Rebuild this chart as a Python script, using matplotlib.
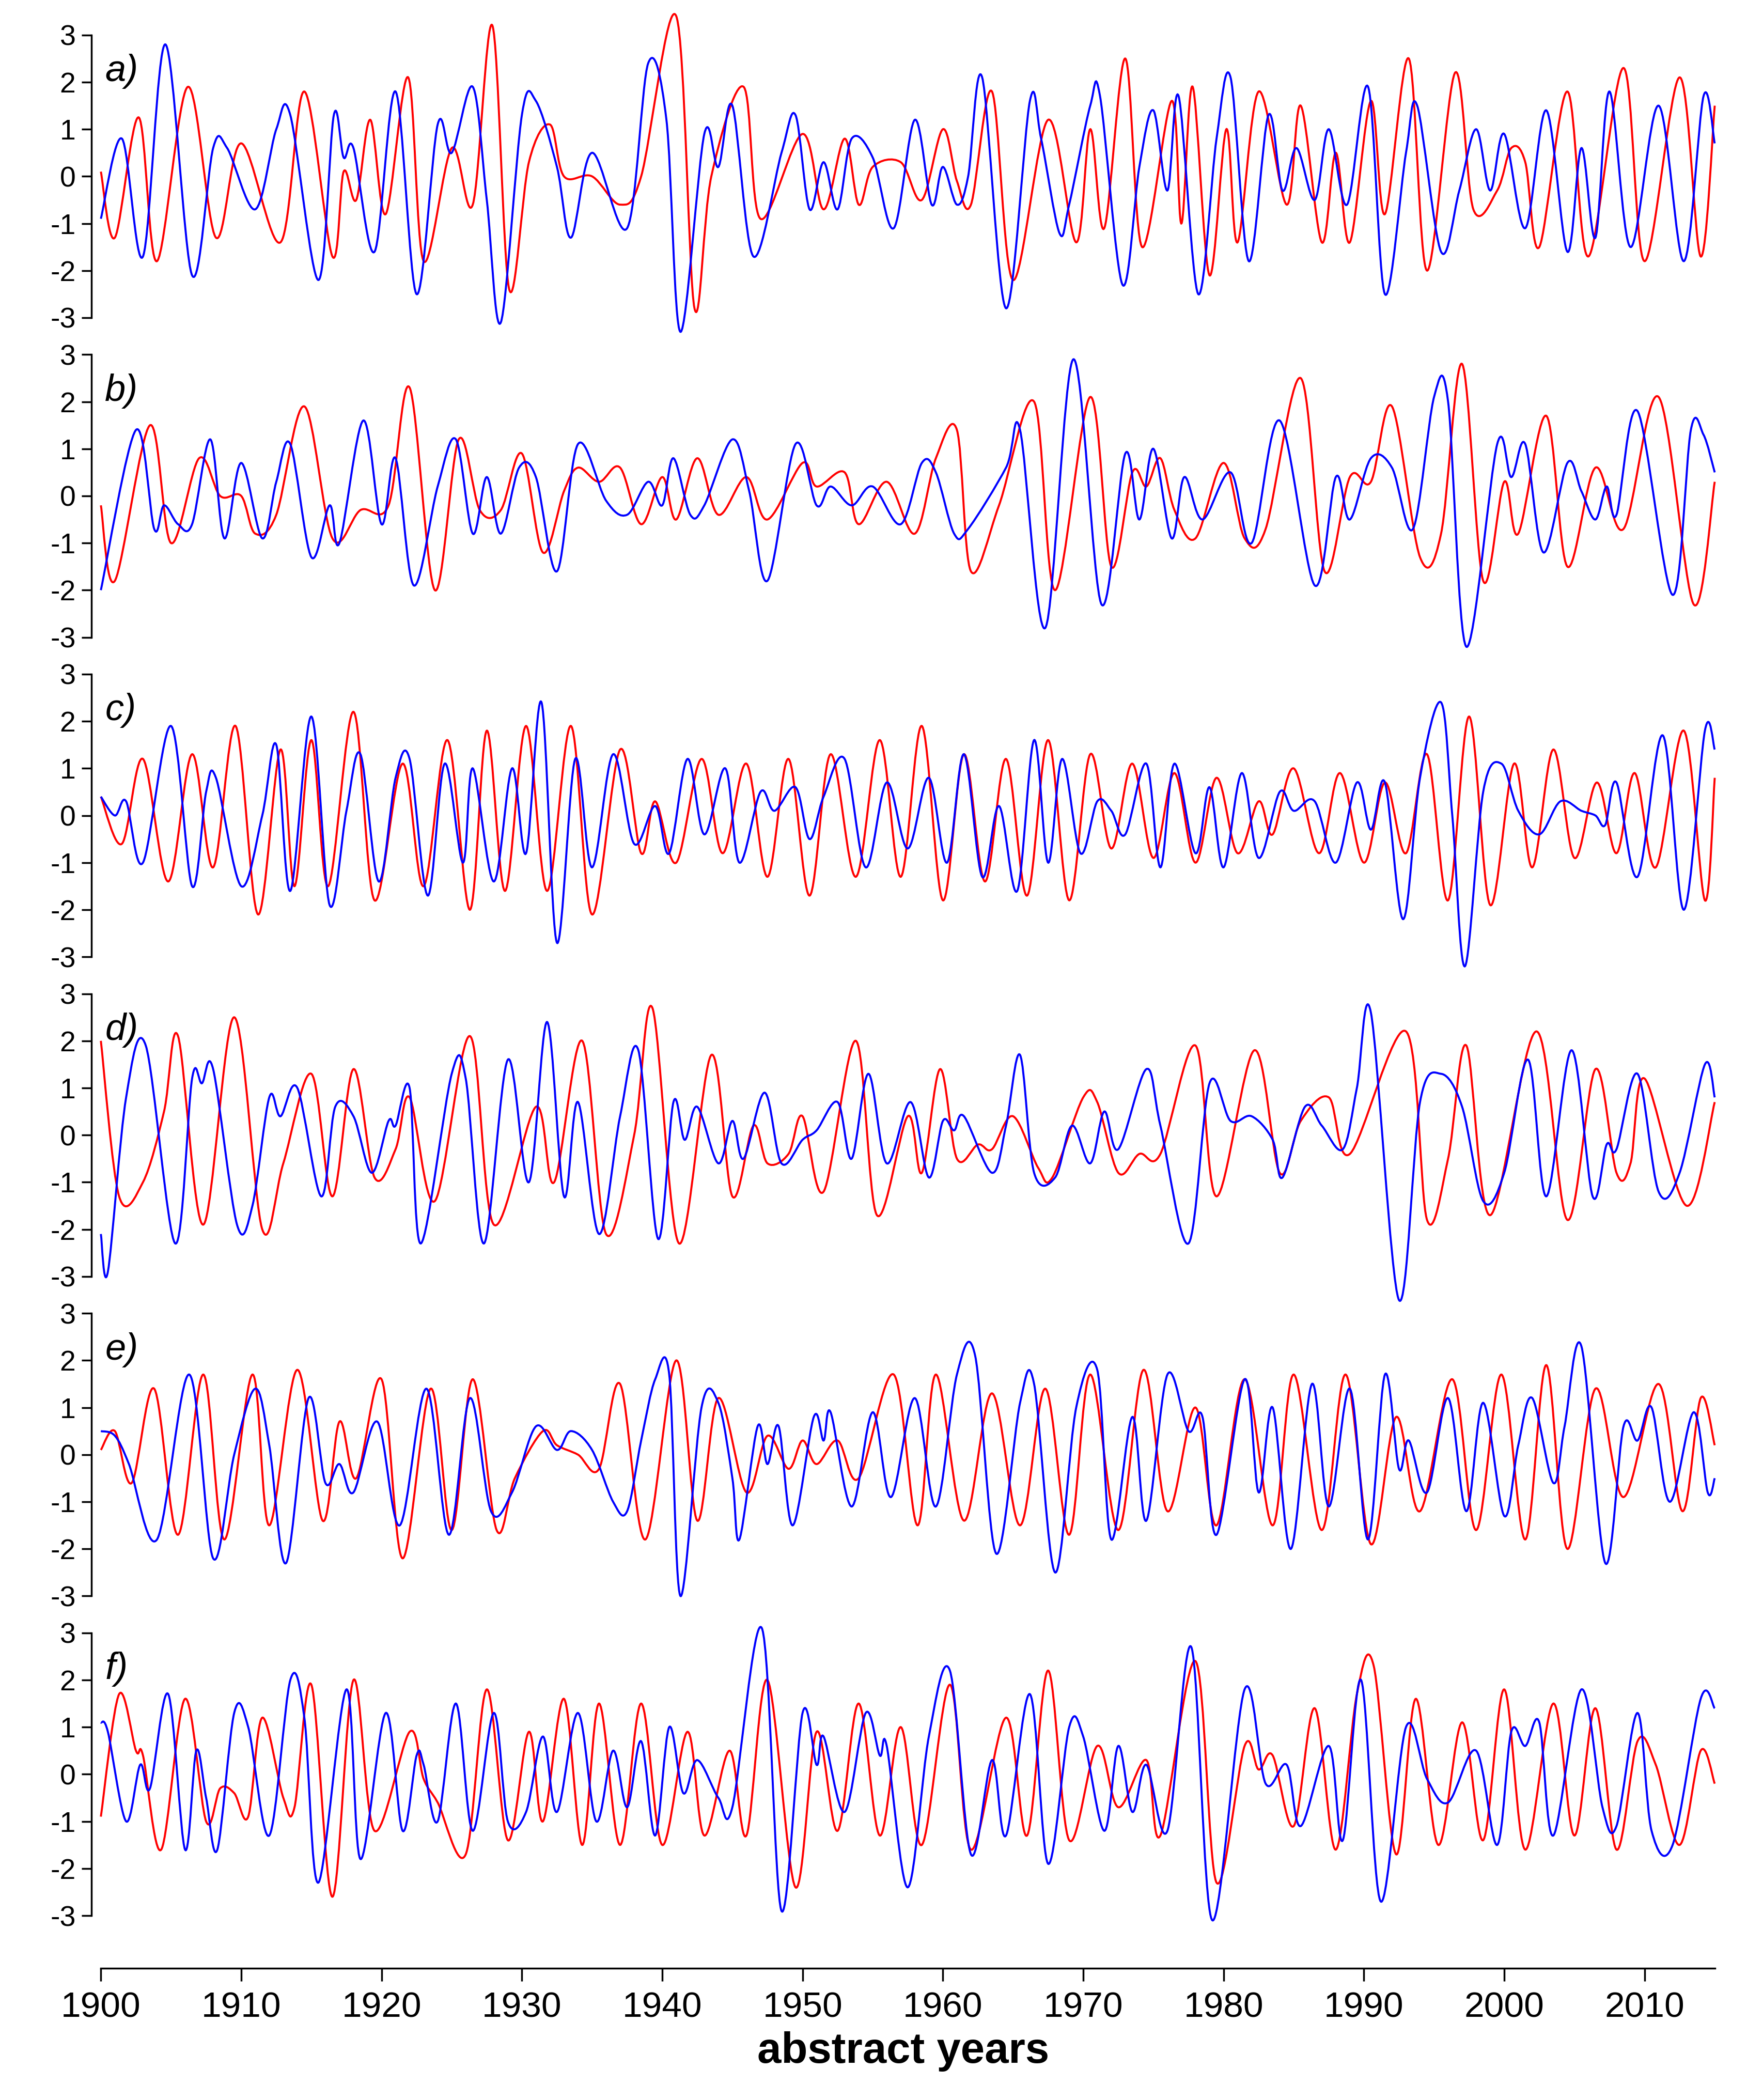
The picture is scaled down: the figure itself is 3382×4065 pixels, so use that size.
import matplotlib
matplotlib.use("Agg")
import matplotlib.pyplot as plt
import numpy as np
from matplotlib.path import Path
from matplotlib.patches import PathPatch

panel_labels = ["a)", "b)", "c)", "d)", "e)", "f)"]
year_ticks = list(range(1900, 2011, 10))
y_ticks = [-3, -2, -1, 0, 1, 2, 3]

red_a = [(1900,0.1),(1901,-1.3),(1902.7,1.25),(1904,-1.8),(1906.2,1.9),(1908.2,-1.3),(1910,0.7),(1912.8,-1.4),(1914.5,1.8),(1916.5,-1.7),(1917.3,0.1),(1918.2,-0.5),(1919.2,1.2),(1920.3,-0.8),(1921.9,2.1),(1923,-1.8),(1925,0.6),(1926.5,-0.6),(1927.9,3.2),(1929.1,-2.4),(1930.5,0.3),(1932,1.1),(1933,0.0),(1935,0.0),(1937,-0.6),(1938.5,0.0),(1941,3.4),(1942.3,-2.8),(1943.5,0.0),(1945.8,1.9),(1947,-0.9),(1950,0.9),(1951.5,-0.7),(1953,0.8),(1954,-0.6),(1955,0.2),(1957,0.3),(1958.5,-0.5),(1960,1.0),(1961,-0.1),(1962,-0.6),(1963.5,1.8),(1965,-2.2),(1967.5,1.2),(1969.5,-1.4),(1970.5,1.0),(1971.5,-1.1),(1973,2.5),(1974.2,-1.5),(1976.3,1.6),(1977,-1.0),(1977.8,1.9),(1979,-2.1),(1980.2,1.0),(1981,-1.4),(1982.5,1.8),(1984.5,-0.6),(1985.5,1.5),(1987,-1.4),(1988,0.5),(1989,-1.4),(1990.5,1.6),(1991.5,-0.8),(1993.2,2.5),(1994.5,-2.0),(1996.5,2.2),(1997.8,-0.7),(1999.5,-0.3),(2000.5,0.6),(2001.5,0.3),(2002.5,-1.5),(2004.5,1.8),(2006,-1.7),(2008.5,2.3),(2010,-1.8),(2012.5,2.1),(2014,-1.7),(2015,1.5)]
blue_a = [(1900,-0.9),(1901.5,0.8),(1903,-1.7),(1904.6,2.8),(1906.5,-2.1),(1908,0.6),(1909,0.6),(1911,-0.7),(1912.5,1.0),(1913.5,1.3),(1915.5,-2.2),(1916.6,1.3),(1917.3,0.4),(1918,0.6),(1919.5,-1.6),(1921,1.8),(1922.5,-2.5),(1924,1.1),(1925,0.5),(1926.5,1.9),(1927.5,-0.5),(1928.5,-3.1),(1930,1.3),(1931,1.6),(1932.5,0.2),(1933.5,-1.3),(1935,0.5),(1937.5,-1.1),(1939,2.4),(1940.3,1.2),(1941.3,-3.3),(1943,0.9),(1944,0.2),(1945,1.5),(1946.5,-1.7),(1948.5,0.5),(1949.5,1.3),(1950.5,-0.7),(1951.5,0.3),(1952.5,-0.7),(1953.5,0.8),(1955,0.4),(1956.5,-1.1),(1958,1.2),(1959.2,-0.6),(1960,0.2),(1961,-0.6),(1961.8,0.0),(1962.8,2.1),(1964.5,-2.8),(1966.2,1.6),(1967,0.8),(1968.3,-1.2),(1969,-0.6),(1970.5,1.5),(1971.2,1.7),(1972.8,-2.3),(1974,0.2),(1975,1.4),(1976,-0.3),(1976.8,1.7),(1978.2,-2.5),(1979.5,0.8),(1980.5,2.1),(1981.8,-1.8),(1983.2,1.3),(1984.2,-0.3),(1985.2,0.6),(1986.5,-0.5),(1987.5,1.0),(1988.8,-0.6),(1990.3,1.9),(1991.5,-2.5),(1993,0.5),(1993.8,1.5),(1995.5,-1.6),(1996.8,-0.3),(1998,1.0),(1999,-0.3),(2000,0.9),(2001.5,-1.1),(2003,1.4),(2004.5,-1.6),(2005.5,0.6),(2006.5,-1.3),(2007.5,1.8),(2009,-1.5),(2011,1.5),(2012.8,-1.8),(2014.2,1.7),(2015,0.7)]
red_b = [(1900,-0.2),(1901,-1.8),(1903.5,1.5),(1905,-1.0),(1907,0.8),(1908.5,0.0),(1910,0.0),(1911,-0.8),(1912.5,-0.4),(1914.5,1.9),(1916.5,-0.9),(1918.5,-0.3),(1920.5,-0.2),(1922,2.3),(1923.8,-2.0),(1925.5,1.2),(1927,-0.3),(1928.5,-0.3),(1930,0.9),(1931.5,-1.2),(1933,0.1),(1934,0.6),(1935.5,0.3),(1937,0.6),(1938.5,-0.6),(1940,0.4),(1941,-0.5),(1942.5,0.8),(1944,-0.4),(1946,0.4),(1947.5,-0.5),(1950,0.7),(1951,0.2),(1953,0.5),(1954,-0.6),(1956,0.3),(1958,-0.8),(1959.5,0.8),(1961,1.4),(1962,-1.6),(1964,-0.2),(1966.5,2.0),(1968,-2.0),(1970.5,2.1),(1972,-1.5),(1973.5,0.5),(1974.5,0.2),(1975.5,0.8),(1976.5,-0.3),(1978,-0.9),(1980,0.7),(1981.5,-0.9),(1983,-0.7),(1985.5,2.5),(1987.2,-1.6),(1989,0.4),(1990.5,0.3),(1992,1.9),(1994,-1.3),(1995.5,-0.8),(1997,2.8),(1998.5,-1.8),(2000,0.3),(2001,-0.8),(2003,1.7),(2004.5,-1.5),(2006.5,0.6),(2008.5,-0.7),(2011,2.1),(2013.5,-2.3),(2015,0.3)]
blue_b = [(1900,-2.0),(1902.5,1.4),(1903.8,-0.7),(1904.5,-0.2),(1905.5,-0.6),(1906.5,-0.6),(1907.8,1.2),(1908.8,-0.9),(1910,0.7),(1911.5,-0.9),(1912.5,0.3),(1913.5,1.1),(1915,-1.3),(1916.3,-0.2),(1917,-1.0),(1918.7,1.6),(1920,-0.6),(1921,0.8),(1922.3,-1.9),(1924,0.2),(1925.3,1.2),(1926.5,-0.8),(1927.5,0.4),(1928.5,-0.8),(1929.8,0.6),(1931,0.4),(1932.5,-1.6),(1934,1.1),(1936,-0.1),(1937.5,-0.4),(1939,0.3),(1940,-0.2),(1940.8,0.8),(1942,-0.4),(1943,-0.2),(1945,1.2),(1946.2,0.1),(1947.5,-1.8),(1949.5,1.1),(1951,-0.2),(1952,0.2),(1953.5,-0.2),(1955,0.2),(1957,-0.6),(1958.5,0.7),(1959.5,0.5),(1960.8,-0.8),(1961.8,-0.7),(1964.5,0.6),(1965.5,1.4),(1967.3,-2.8),(1969.3,2.9),(1971.3,-2.3),(1973,0.9),(1974,-0.5),(1975,1.0),(1976.3,-0.9),(1977.2,0.4),(1978.5,-0.5),(1980.5,0.5),(1982,-1.0),(1984,1.6),(1986.5,-1.9),(1988,0.4),(1989,-0.5),(1990.5,0.8),(1992,0.6),(1993.5,-0.7),(1995,2.1),(1996,2.0),(1997.3,-3.2),(1999.5,1.1),(2000.5,0.4),(2001.5,1.1),(2002.8,-1.2),(2004.5,0.7),(2005.5,0.1),(2006.5,-0.5),(2007.3,0.2),(2008,-0.4),(2009.5,1.8),(2012,-2.1),(2013.3,1.4),(2014.2,1.3),(2015,0.5)]
red_c = [(1900,0.4),(1901.5,-0.6),(1903,1.2),(1904.8,-1.4),(1906.5,1.3),(1908,-1.1),(1909.6,1.9),(1911.2,-2.1),(1912.8,1.4),(1913.8,-1.5),(1915,1.6),(1916.2,-1.5),(1918,2.2),(1919.5,-1.8),(1921.5,1.1),(1923,-1.5),(1924.7,1.6),(1926.3,-2.0),(1927.5,1.8),(1928.8,-1.6),(1930.3,1.9),(1931.8,-1.6),(1933.5,1.9),(1935,-2.1),(1937,1.4),(1938.5,-0.8),(1939.5,0.3),(1941,-1.0),(1942.8,1.2),(1944.3,-0.8),(1946,1.1),(1947.5,-1.3),(1949,1.2),(1950.5,-1.7),(1952,1.3),(1953.8,-1.3),(1955.5,1.6),(1957,-1.3),(1958.5,1.9),(1960,-1.8),(1961.5,1.3),(1963,-1.4),(1964.5,1.2),(1966,-1.7),(1967.5,1.6),(1969,-1.8),(1970.5,1.3),(1972,-0.7),(1973.5,1.1),(1975,-0.9),(1976.5,0.9),(1978,-1.0),(1979.5,0.8),(1981,-0.8),(1982.5,0.3),(1983.5,-0.4),(1985,1.0),(1986.8,-0.8),(1988.3,0.9),(1990,-1.0),(1991.5,0.7),(1993,-0.8),(1994.5,1.3),(1996,-1.8),(1997.5,2.1),(1999,-1.9),(2000.7,1.1),(2002,-1.1),(2003.5,1.4),(2005,-0.9),(2006.6,0.7),(2008,-0.8),(2009.3,0.9),(2010.8,-1.1),(2012.8,1.8),(2014.3,-1.8),(2015,0.8)]
blue_c = [(1900,0.4),(1901,0.0),(1901.8,0.3),(1903,-1.0),(1905,1.9),(1906.5,-1.5),(1907.5,0.5),(1908.2,0.8),(1910,-1.5),(1911.5,0.0),(1912.5,1.5),(1913.5,-1.6),(1915,2.1),(1916.3,-1.9),(1917.5,0.1),(1918.5,1.3),(1919.8,-1.4),(1921,0.8),(1922,1.2),(1923.3,-1.7),(1924.5,1.1),(1925.8,-1.0),(1926.5,1.0),(1928,-1.4),(1929.3,1.0),(1930.3,-0.8),(1931.4,2.4),(1932.5,-2.7),(1933.8,1.2),(1935,-1.1),(1936.5,1.3),(1938,-0.6),(1939.5,0.2),(1940.5,-0.8),(1941.8,1.2),(1943,-0.4),(1944.5,1.0),(1945.5,-1.0),(1947,0.5),(1948,0.1),(1949.5,0.6),(1950.5,-0.5),(1951.5,0.4),(1953,1.2),(1954.5,-1.1),(1956,0.7),(1957.5,-0.7),(1959,0.8),(1960.3,-1.0),(1961.5,1.3),(1962.8,-1.3),(1964,0.2),(1965.3,-1.6),(1966.5,1.6),(1967.5,-1.0),(1968.5,1.2),(1969.8,-0.8),(1971,0.3),(1972,0.1),(1973,-0.4),(1974.5,1.1),(1975.5,-1.1),(1976.5,1.1),(1978,-0.8),(1979,0.6),(1980,-1.1),(1981.3,0.9),(1982.5,-0.9),(1984,0.5),(1985,0.1),(1986.5,0.3),(1988,-1.0),(1989.5,0.7),(1990.5,-0.3),(1991.5,0.7),(1992.8,-2.2),(1994,0.8),(1995.5,2.4),(1996.3,0.0),(1997.2,-3.2),(1998.5,0.5),(1999.8,1.1),(2001,0.1),(2002.5,-0.4),(2004,0.3),(2005.5,0.1),(2006.5,0.0),(2007.2,-0.2),(2008,0.7),(2009.5,-1.3),(2011.3,1.7),(2012.8,-2.0),(2014.3,1.8),(2015,1.4)]
red_d = [(1900,2.0),(1901.3,-1.3),(1903,-1.0),(1904.5,0.5),(1905.5,2.1),(1907.3,-1.9),(1909.5,2.5),(1911.5,-2.0),(1913,-0.6),(1915,1.3),(1916.5,-1.3),(1918,1.4),(1919.5,-0.9),(1921,-0.3),(1922,0.8),(1923.8,-1.4),(1926.3,2.1),(1928,-1.9),(1931,0.6),(1932.3,-1.0),(1934.3,2.0),(1936,-2.1),(1938,0.0),(1939.3,2.7),(1941.2,-2.3),(1943.5,1.7),(1945,-1.3),(1946.5,0.2),(1947.5,-0.6),(1949,-0.4),(1950,0.4),(1951.5,-1.2),(1953.8,2.0),(1955.3,-1.7),(1957.5,0.4),(1958.5,-0.8),(1959.8,1.4),(1961,-0.5),(1962.5,-0.2),(1963.5,-0.3),(1965,0.4),(1966.8,-0.7),(1967.8,-0.9),(1970,0.8),(1971,0.7),(1972.5,-0.8),(1974,-0.4),(1975.5,-0.4),(1978,1.9),(1979.5,-1.3),(1982.2,1.8),(1984,-0.8),(1985.5,0.3),(1987.5,0.8),(1989,-0.4),(1993,2.2),(1994.5,-1.8),(1996,-0.5),(1997.3,1.9),(1999,-1.7),(2002.3,2.2),(2004.5,-1.8),(2006.5,1.4),(2008,-0.8),(2009,-0.6),(2010,1.2),(2013,-1.5),(2015,0.7)]
blue_d = [(1900,-2.1),(1900.5,-2.9),(1901.8,0.8),(1903.2,1.9),(1905.3,-2.3),(1906.5,1.2),(1907.2,1.1),(1908,1.4),(1909.7,-1.9),(1910.8,-1.5),(1912,0.8),(1912.8,0.4),(1914,1.0),(1915.7,-1.3),(1916.7,0.6),(1918,0.4),(1919.3,-0.8),(1920.5,0.3),(1921,0.2),(1922,1.0),(1922.8,-2.3),(1925,1.3),(1926,1.2),(1927.3,-2.3),(1929,1.6),(1930.5,-1.0),(1931.8,2.4),(1933,-1.3),(1934,0.7),(1935.5,-2.1),(1937,0.4),(1938.3,1.8),(1939.7,-2.2),(1940.8,0.7),(1941.6,-0.1),(1942.5,0.6),(1944,-0.6),(1945,0.3),(1945.8,-0.5),(1947.3,0.9),(1948.5,-0.6),(1950,-0.1),(1951,0.1),(1952.5,0.7),(1953.5,-0.5),(1954.7,1.3),(1956,-0.6),(1957.7,0.7),(1959,-0.9),(1960,0.3),(1960.8,0.1),(1961.5,0.4),(1963.5,-0.8),(1964.5,0.2),(1965.5,1.7),(1966.5,-0.8),(1968,-0.9),(1969.2,0.2),(1970.5,-0.6),(1971.5,0.5),(1972.5,-0.3),(1974.5,1.4),(1975.5,0.2),(1977.5,-2.3),(1979,1.1),(1980.5,0.3),(1982,0.4),(1983.5,-0.1),(1984.2,-0.9),(1985.8,0.6),(1987,0.2),(1988.5,-0.3),(1989.5,1.0),(1990.5,2.6),(1992.5,-3.5),(1994,0.7),(1995.5,1.3),(1997,0.6),(1998.5,-1.4),(2000,-0.8),(2001.7,1.6),(2003,-1.3),(2004.8,1.8),(2006.3,-1.3),(2007.3,-0.2),(2008,-0.3),(2009.5,1.3),(2011,-1.2),(2012.5,-0.8),(2014.3,1.5),(2015,0.8)]
red_e = [(1900,0.1),(1901,0.5),(1902.2,-0.6),(1903.8,1.4),(1905.5,-1.7),(1907.3,1.7),(1908.8,-1.8),(1910.8,1.7),(1912,-1.5),(1914,1.8),(1915.8,-1.4),(1917,0.7),(1918.2,-0.5),(1920,1.6),(1921.5,-2.2),(1923.5,1.4),(1925,-1.6),(1926.5,1.6),(1928.2,-1.6),(1929.5,-0.5),(1931.5,0.5),(1932.5,0.2),(1934,0.0),(1935.5,-0.3),(1937,1.5),(1938.8,-1.8),(1941,2.0),(1942.5,-1.4),(1944,1.2),(1946,-0.8),(1947.5,0.4),(1949,-0.3),(1950,0.3),(1951,-0.2),(1952.5,0.3),(1954,-0.5),(1956.5,1.7),(1958.2,-1.5),(1959.5,1.7),(1961.5,-1.4),(1963.5,1.3),(1965.5,-1.5),(1967.3,1.4),(1969,-1.7),(1970.5,1.7),(1972.5,-1.6),(1974.3,1.8),(1976,-1.2),(1978,1.0),(1979.5,-1.5),(1981.5,1.6),(1983.5,-1.5),(1985,1.7),(1987,-1.6),(1988.7,1.7),(1990.5,-1.9),(1992.3,0.8),(1994,-1.2),(1996.3,1.6),(1998,-1.6),(1999.8,1.7),(2001.5,-1.8),(2003,1.9),(2004.5,-2.0),(2006.5,1.4),(2008.5,-0.9),(2011,1.5),(2012.7,-1.2),(2014,1.2),(2015,0.2)]
blue_e = [(1900,0.5),(1901,0.4),(1902,-0.2),(1904,-1.8),(1906.3,1.7),(1908,-2.2),(1909.5,0.0),(1911,1.4),(1912,0.2),(1913.2,-2.3),(1914.8,1.2),(1916,-0.6),(1917,-0.2),(1918,-0.8),(1919.7,0.7),(1921.3,-1.5),(1923.2,1.4),(1924.8,-1.7),(1926.3,1.2),(1927.8,-1.2),(1929.3,-0.8),(1931,0.6),(1932.5,0.1),(1933.5,0.5),(1935,0.1),(1936.5,-1.0),(1937.5,-1.2),(1938.5,0.3),(1939.5,1.6),(1940.5,1.7),(1941.3,-3.0),(1942.8,1.0),(1944,1.1),(1945,-0.5),(1945.5,-1.8),(1946.8,0.6),(1947.5,-0.2),(1948.3,0.6),(1949.3,-1.5),(1950.8,0.8),(1951.5,0.3),(1952,0.9),(1953.5,-1.1),(1955,0.9),(1956.3,-0.9),(1958,1.2),(1959.5,-1.1),(1961,1.7),(1962.3,2.1),(1963.8,-2.1),(1965.5,1.1),(1966.5,1.5),(1968,-2.5),(1969.5,1.0),(1971,1.8),(1972,-1.8),(1973.5,0.8),(1974.5,-1.4),(1976,1.7),(1977.5,0.5),(1978.5,0.8),(1979.5,-1.7),(1981.5,1.6),(1982.5,-0.8),(1983.5,1.0),(1984.8,-2.0),(1986.3,1.5),(1987.5,-1.1),(1989,1.4),(1990.3,-1.8),(1991.5,1.7),(1992.5,-0.3),(1993.2,0.3),(1994.5,-0.8),(1996,1.2),(1997.3,-1.2),(1998.5,1.1),(2000,-1.3),(2001,0.2),(2002,1.2),(2003.5,-0.6),(2004.3,0.6),(2005.5,2.3),(2007.2,-2.3),(2008.5,0.6),(2009.5,0.3),(2010.5,1.0),(2011.8,-1.0),(2013.5,0.9),(2014.5,-0.8),(2015,-0.5)]
red_f = [(1900,-0.9),(1901.3,1.7),(1902.5,0.5),(1903,0.4),(1904.3,-1.6),(1906,1.6),(1907.5,-1.0),(1908.5,-0.3),(1909.5,-0.4),(1910.5,-0.9),(1911.5,1.2),(1913,-0.5),(1913.8,-0.7),(1915,1.9),(1916.5,-2.6),(1918,2.0),(1919.5,-1.2),(1922,0.9),(1923,-0.1),(1924,-0.6),(1926,-1.7),(1927.5,1.8),(1929,-1.4),(1930.5,0.9),(1931.5,-1.0),(1933,1.6),(1934.3,-1.5),(1935.5,1.5),(1937,-1.5),(1938.5,1.5),(1940,-1.5),(1941.8,0.9),(1943,-1.3),(1944.8,0.5),(1946,-1.3),(1947.5,2.0),(1949.5,-2.4),(1951,0.9),(1952.5,-1.2),(1954,1.5),(1955.5,-1.3),(1957,1.0),(1958.5,-1.5),(1960.5,1.9),(1962,-1.6),(1964.5,1.2),(1966,-1.3),(1967.5,2.2),(1969,-1.4),(1971,0.6),(1972.5,-0.7),(1974.5,0.3),(1975.5,-1.3),(1978,2.4),(1979.5,-2.3),(1981.5,0.6),(1982.5,0.1),(1983.5,0.4),(1985,-1.1),(1986.5,1.4),(1988,-1.6),(1989.5,1.7),(1990.7,2.3),(1992.3,-1.7),(1993.7,1.6),(1995.3,-1.5),(1997,1.1),(1998.5,-1.4),(2000,1.8),(2001.5,-1.6),(2003.5,1.5),(2005,-1.3),(2006.5,1.4),(2008,-1.6),(2009.5,0.7),(2010.8,0.2),(2012.5,-1.5),(2014,0.5),(2015,-0.2)]
blue_f = [(1900,1.1),(1900.5,0.9),(1901.8,-1.0),(1902.8,0.2),(1903.5,-0.3),(1904.8,1.7),(1906,-1.6),(1906.8,0.5),(1907.5,-0.5),(1908.3,-1.6),(1909.5,1.3),(1910.5,1.0),(1912,-1.3),(1913.5,2.0),(1914.5,1.2),(1915.5,-2.3),(1917.5,1.8),(1918.5,-1.8),(1920.3,1.3),(1921.5,-1.2),(1922.5,0.4),(1923,0.2),(1924,-1.0),(1925.3,1.5),(1926.5,-1.2),(1928,1.3),(1929,-1.0),(1930.3,-0.8),(1931.5,0.8),(1932.5,-0.8),(1934,1.3),(1935.3,-1.0),(1936.5,0.5),(1937.5,-0.7),(1938.5,0.7),(1939.5,-1.3),(1940.5,1.0),(1941.5,-0.4),(1942.5,0.3),(1944,-0.5),(1945,-0.7),(1947.1,3.1),(1948.5,-2.9),(1950,1.3),(1951,0.2),(1951.5,0.8),(1953,-0.8),(1954.5,1.3),(1955.5,0.4),(1956,0.6),(1957.5,-2.4),(1959,0.8),(1960.5,2.2),(1962,-1.7),(1963.5,0.3),(1964.5,-1.3),(1966.2,1.7),(1967.5,-1.9),(1969,1.0),(1970,0.8),(1971.5,-1.2),(1972.5,0.6),(1973.5,-0.8),(1974.5,0.2),(1976,-1.2),(1977.7,2.7),(1979.2,-3.1),(1981.5,1.8),(1983,-0.2),(1984.5,0.2),(1985.5,-1.1),(1987.5,0.6),(1988.5,-1.4),(1989.8,2.0),(1991.2,-2.7),(1993,1.0),(1994.5,-0.1),(1996,-0.6),(1998,0.5),(1999.5,-1.5),(2000.5,0.9),(2001.5,0.6),(2002.5,1.1),(2003.5,-1.3),(2005.5,1.8),(2007,-0.7),(2008,-1.1),(2009.5,1.3),(2010.5,-1.2),(2012,-1.5),(2014,1.6),(2015,1.4)]

reds = [red_a, red_b, red_c, red_d, red_e, red_f]
blues = [blue_a, blue_b, blue_c, blue_d, blue_e, blue_f]

W, H = 3382, 4065
plt.rcParams['font.family'] = ['Liberation Sans', 'DejaVu Sans']
plt.rcParams['axes.unicode_minus'] = False
fig = plt.figure(figsize=(W/100, H/100), dpi=100)

def smooth_path(pts, color, ax):
    p = np.array(pts, float)
    verts = [tuple(p[0])]
    codes = [Path.MOVETO]
    n = len(p)
    for i in range(n - 1):
        p0 = p[max(i - 1, 0)]; p1 = p[i]; p2 = p[i + 1]; p3 = p[min(i + 2, n - 1)]
        c1 = p1 + (p2 - p0) / 6.0
        c2 = p2 - (p3 - p1) / 6.0
        verts += [tuple(c1), tuple(c2), tuple(p2)]
        codes += [Path.CURVE4] * 3
    patch = PathPatch(Path(verts, codes), facecolor='none', edgecolor=color, lw=2.8)
    patch.set_clip_on(False)
    ax.add_patch(patch)

ref_h = 1560.0
left = 68/1299
right = 1275/1299
x0 = 1900 - 7*115/1200
for i in range(6):
    top = 26 + 237.4*i
    bot = top + 210
    ax = fig.add_axes([left, 1 - bot/ref_h, right - left, 210/ref_h])
    ax.set_xlim(x0, 2015)
    ax.set_ylim(-3, 3)
    for s in ['top', 'right', 'bottom']:
        ax.spines[s].set_visible(False)
    ax.spines['left'].set_linewidth(2.5)
    ax.set_xticks([])
    ax.set_yticks(y_ticks)
    ax.tick_params(axis='y', labelsize=40, width=2.5, length=14, pad=8)
    ax.patch.set_alpha(0)
    smooth_path(reds[i], 'red', ax)
    smooth_path(blues[i], 'blue', ax)
    ax.text(1900.3, 2.6, panel_labels[i], fontsize=52, style='italic', va='top', ha='left')

axb = fig.add_axes([left, 1 - 1462/ref_h, right - left, 0.001])
axb.set_xlim(x0, 2015)
for s in ['top', 'right', 'left']:
    axb.spines[s].set_visible(False)
axb.spines['bottom'].set_bounds(1900, 2015)
axb.spines['bottom'].set_linewidth(2.5)
axb.set_yticks([])
axb.set_xticks(year_ticks)
axb.tick_params(axis='x', labelsize=50, width=2.5, length=18, pad=14)
axb.patch.set_alpha(0)
axb.set_xlabel('abstract years', fontsize=60, fontweight='bold', labelpad=10)

fig.savefig('out.png', dpi=100)
